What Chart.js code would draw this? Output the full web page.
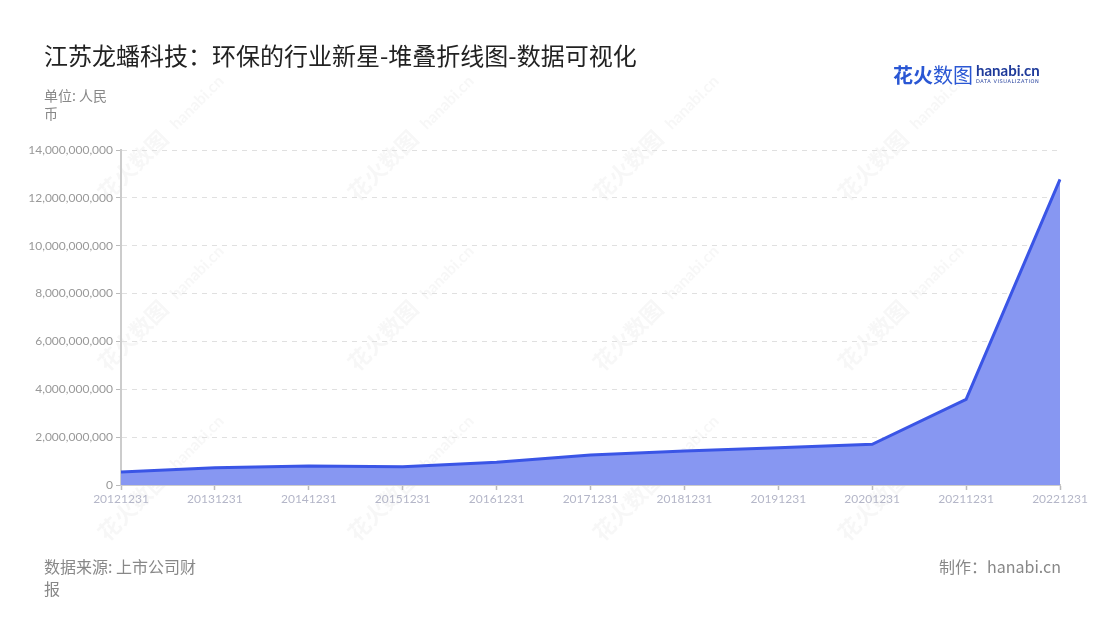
<!DOCTYPE html>
<html>
<head>
<meta charset="utf-8">
<script src="https://cdn.jsdelivr.net/npm/chart.js@4"></script>
<style>
  body { margin: 0; background: #fff; font-family: "Noto Sans CJK SC", "Noto Sans", sans-serif; }
  #wrap { position: relative; width: 1100px; height: 620px; overflow: hidden; }
  #chart { position: absolute; left: 0; top: 0; }
  .title { position: absolute; left: 44px; top: 37px; font-size: 24px; color: #222; }
  .unit { position: absolute; left: 44px; top: 86px; width: 70px; font-size: 14px; line-height: 18px; color: #888; }
  .source { position: absolute; left: 44px; top: 555px; width: 162px; font-size: 16px; line-height: 22px; color: #888; }
  .maker { position: absolute; right: 39px; top: 555px; font-size: 16px; line-height: 22px; color: #888; }
  .logo { position: absolute; left: 893px; top: 60px; white-space: nowrap; }
  .logo .cn { font-size: 20px; color: #2a57d4; vertical-align: top; }
  .logo .cn b { font-weight: bold; }
  .logo .en { display: inline-block; vertical-align: top; margin-left: 3px; line-height: 1; }
  .logo .en b { font-family: "Lato", sans-serif; font-size: 15px; color: #1e3a9a; display: block; margin-top: 3px; }
  .logo .en i { font-style: normal; font-family: "DejaVu Sans", sans-serif; font-size: 5px; letter-spacing: 0.6px; color: #1e3a9a; display: block; margin-top: 1px; }
</style>
</head>
<body>
<div id="wrap">
  <canvas id="chart" width="1100" height="620"></canvas>
  <div class="title">江苏龙蟠科技：环保的行业新星-堆叠折线图-数据可视化</div>
  <div class="unit">单位: 人民币</div>
  <div class="source">数据来源: 上市公司财报</div>
  <div class="maker">制作：hanabi.cn</div>
  <div class="logo"><span class="cn"><b>花火</b>数图</span><span class="en"><b>hanabi.cn</b><i>DATA VISUALIZATION</i></span></div>
</div>
<script>
const dates = ['20121231', '20131231', '20141231', '20151231', '20161231', '20171231',
               '20181231', '20191231', '20201231', '20211231', '20221231'];
const revenue = [540000000, 720000000, 790000000, 760000000, 950000000, 1250000000,
                 1420000000, 1560000000, 1700000000, 3580000000, 12770000000];
const yTicks = [0, 2000000000, 4000000000, 6000000000, 8000000000, 10000000000, 12000000000, 14000000000];

// faint diagonal watermark, like the original page
const watermark = {
  id: 'watermark',
  beforeDraw(chart) {
    const ctx = chart.ctx;
    ctx.save();
    ctx.fillStyle = 'rgba(120,120,120,0.06)';
    const spots = [];
    [160, 330, 500].forEach(y => [150, 400, 645, 890].forEach(x => spots.push([x, y])));
    spots.forEach(([x, y]) => {
      ctx.save();
      ctx.translate(x, y);
      ctx.rotate(-Math.PI / 4);
      ctx.font = 'bold 22px "Noto Sans CJK SC"';
      ctx.fillText('花火数图', -60, 0);
      ctx.font = 'bold 16px Lato';
      ctx.fillText('hanabi.cn', 40, -2);
      ctx.restore();
    });
    ctx.restore();
  }
};

const ctx = document.getElementById('chart').getContext('2d');
new Chart(ctx, {
  type: 'line',
  data: {
    labels: dates,
    datasets: [{
      label: '营业收入',
      data: revenue,
      borderColor: '#3a55e6',
      backgroundColor: '#8797f2',
      borderWidth: 3,
      fill: 'origin',
      pointRadius: 0,
      tension: 0
    }]
  },
  options: {
    responsive: false,
    animation: false,
    layout: { padding: { top: 150, right: 40, left: 0, bottom: 0 } },
    plugins: { legend: { display: false }, tooltip: { enabled: false } },
    scales: {
      x: {
        offset: false,
        afterFit: s => { s.height = 135; },
        grid: { display: true, drawOnChartArea: false, drawTicks: true, tickLength: 5, tickColor: '#bbb', tickWidth: 1.5 },
        border: { color: '#ccc', width: 2 },
        ticks: { color: '#b4b6c8', font: { family: 'Lato', size: 12 }, maxRotation: 0, autoSkip: false, padding: 2 }
      },
      y: {
        min: 0,
        max: 14000000000,
        afterFit: s => { s.width = 121; },
        afterBuildTicks: s => { s.ticks = yTicks.map(v => ({ value: v })); },
        grid: { color: '#e0e0e0', lineWidth: 1, tickLength: 5, tickColor: '#bbb', tickBorderDash: [] },
        border: { color: '#ccc', width: 2, dash: [5, 5] },
        ticks: {
          color: '#999',
          font: { family: 'Lato', size: 12 },
          padding: 3,
          callback: v => v.toLocaleString('en-US')
        }
      }
    }
  },
  plugins: [watermark]
});
</script>
</body>
</html>
